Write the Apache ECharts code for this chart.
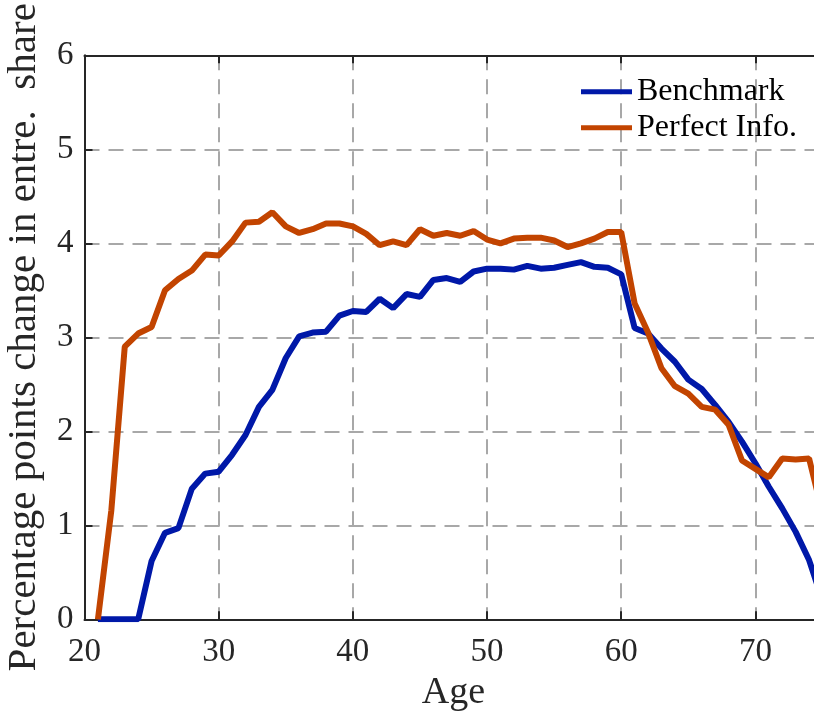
<!DOCTYPE html>
<html>
<head>
<meta charset="utf-8">
<script src="https://cdn.jsdelivr.net/npm/echarts@6/dist/echarts.min.js"></script>
<style>html,body{margin:0;padding:0;background:#fff;}#c{width:814px;height:711px;}</style>
</head>
<body>
<div id="c"></div>
<script>
const ages = [21,22,23,24,25,26,27,28,29,30,31,32,33,34,35,36,37,38,39,40,41,42,43,44,45,46,47,48,49,50,51,52,53,54,55,56,57,58,59,60,61,62,63,64,65,66,67,68,69,70,71,72,73,74,75];
const benchmark = [0,0,0,0,0.62,0.92,0.97,1.39,1.55,1.57,1.75,1.96,2.26,2.44,2.78,3.01,3.05,3.06,3.23,3.28,3.27,3.41,3.31,3.46,3.43,3.61,3.63,3.59,3.70,3.73,3.73,3.72,3.76,3.73,3.74,3.77,3.80,3.75,3.74,3.67,3.10,3.04,2.88,2.74,2.55,2.45,2.28,2.10,1.89,1.66,1.41,1.18,0.93,0.63,0.20];
const perfectInfo = [0,1.16,2.90,3.04,3.11,3.50,3.62,3.71,3.88,3.87,4.02,4.22,4.23,4.33,4.18,4.11,4.15,4.21,4.21,4.18,4.10,3.98,4.02,3.98,4.15,4.08,4.11,4.08,4.13,4.04,4.00,4.05,4.06,4.06,4.03,3.96,4.00,4.05,4.12,4.12,3.36,3.05,2.67,2.48,2.40,2.26,2.23,2.07,1.69,1.60,1.51,1.71,1.70,1.71,1.13];
const seriesNames = ['Benchmark', 'Perfect Info.'];
const xLabel = 'Age';
const yLabel = 'Percentage points change in entre.  share';

const FONT = 'Liberation Serif';
const dark = '#262626';
const chart = echarts.init(document.getElementById('c'), null, {renderer: 'canvas'});
const pair = (vals) => ages.map((a, i) => [a, vals[i]]);
chart.setOption({
  animation: false,
  backgroundColor: '#fff',
  grid: {left: 84.5, top: 55.3, height: 564, width: 738, containLabel: false, outerBoundsMode: 'none'},
  legend: {
    orient: 'vertical', left: 581, top: 75.7, padding: 0,
    itemWidth: 51, itemHeight: 5, itemGap: 4, icon: 'rect',
    textStyle: {fontFamily: FONT, fontSize: 32, color: '#000', lineHeight: 32},
    data: seriesNames
  },
  xAxis: [{
    type: 'value', min: 20, max: 75, interval: 10, position: 'bottom',
    name: xLabel, nameLocation: 'middle', nameGap: 54,
    nameTextStyle: {fontFamily: FONT, fontSize: 38, color: dark},
    axisLine: {show: true, lineStyle: {color: dark, width: 2}},
    axisTick: {show: true, inside: true, length: 8, lineStyle: {color: dark, width: 2}},
    axisLabel: {fontFamily: FONT, fontSize: 33, color: dark, margin: 17, showMaxLabel: false},
    splitLine: {show: true, lineStyle: {color: '#a8a8a8', width: 2, type: [15, 9]}}
  }, {
    type: 'value', min: 20, max: 75, interval: 10, position: 'top',
    axisLine: {show: true, onZero: false, lineStyle: {color: dark, width: 2}},
    axisTick: {show: true, inside: true, length: 8, lineStyle: {color: dark, width: 2}},
    axisLabel: {show: false}, splitLine: {show: false}
  }],
  yAxis: {
    type: 'value', min: 0, max: 6, interval: 1,
    name: yLabel, nameLocation: 'middle', nameGap: 40, nameRotate: 90,
    nameTextStyle: {fontFamily: FONT, fontSize: 41, color: dark},
    axisLine: {show: true, lineStyle: {color: dark, width: 2}},
    axisTick: {show: true, inside: true, length: 8, lineStyle: {color: dark, width: 2}},
    axisLabel: {fontFamily: FONT, fontSize: 33, color: dark, margin: 11},
    splitLine: {show: true, lineStyle: {color: '#a8a8a8', width: 2, type: [15, 9]}}
  },
  series: [
    {name: seriesNames[0], type: 'line', data: pair(benchmark), showSymbol: false, symbol: 'none',
     lineStyle: {color: '#0018a8', width: 6}, itemStyle: {color: '#0018a8'}, clip: true},
    {name: seriesNames[1], type: 'line', data: pair(perfectInfo), showSymbol: false, symbol: 'none',
     lineStyle: {color: '#c24400', width: 6}, itemStyle: {color: '#c24400'}, clip: true}
  ]
});
</script>
</body>
</html>
